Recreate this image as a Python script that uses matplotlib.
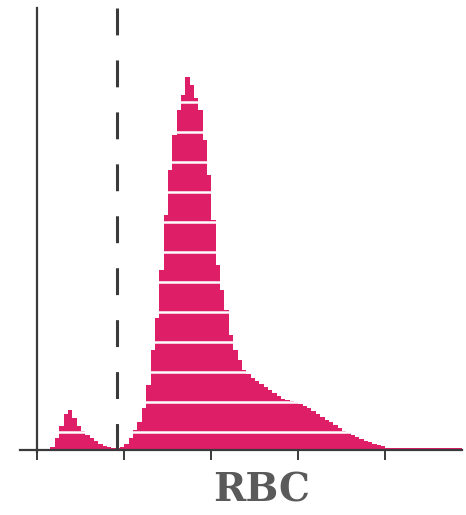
import numpy as np
import matplotlib
matplotlib.use("Agg")
import matplotlib.pyplot as plt

# RBC volume histogram (fL), bin width 2.5 fL, relative counts
bin_width = 2.5
bin_starts = np.arange(0, 245, bin_width)
counts = [
    # 0 - 47.5 fL : small (fragment) peak
    0, 0, 0, 3, 12, 24, 36, 40, 32, 24, 19, 15, 12, 9, 6, 4, 3, 2, 2,
    # 47.5 - 200 fL : main RBC population
    3, 6, 12, 20, 28, 42, 65, 100, 132, 180, 235, 280, 315, 340, 355, 373,
    365, 352, 340, 310, 275, 230, 185, 160, 140, 115, 100, 90, 80, 76, 72,
    69, 66, 63, 60, 57, 54, 51, 50, 49, 48, 46, 44, 42, 39, 36, 33, 30, 28,
    25, 22, 19, 17, 15, 13, 11, 9, 8, 6, 5, 4,
    # 200 - 245 fL : tail
    2, 2, 2, 2, 2, 2, 2, 2, 2, 2, 2, 2, 2, 2, 2, 2, 2, 2,
]
bin_starts = bin_starts[:len(counts)]
x_ticks = [0, 50, 100, 150, 200]
discriminator = 46
x_label = "RBC"

fig = plt.figure(figsize=(4.66, 5.15), dpi=100)
ax = fig.add_axes([20 / 466, 65 / 515, 442 / 466, 442 / 515])

ax.bar(bin_starts, counts, width=bin_width, align="edge",
       color="#DE1F67", linewidth=0, zorder=1)

# white printing bands across the filled area
for h in np.arange(18, 360, 30):
    ax.axhline(h, color="white", lw=1.8, zorder=2)

# left axis line and discriminator
ax.axvline(0, ymin=-0.005, ymax=1, color="#3a3a3a", lw=1.6, zorder=4, clip_on=False)
ax.plot([discriminator, discriminator], [442, -3], color="#3a3a3a", lw=2.2,
        dashes=(8.8, 8.2), zorder=4, clip_on=False)

ax.set_xlim(-10, 244)
ax.set_ylim(0, 442)

for s in ["left", "right", "top"]:
    ax.spines[s].set_visible(False)
ax.spines["bottom"].set_color("#3a3a3a")
ax.spines["bottom"].set_linewidth(1.6)
ax.spines["bottom"].set_zorder(4)

ax.set_xticks(x_ticks)
ax.set_xticklabels([])
ax.tick_params(axis="x", direction="out", length=7, width=1.4, color="#3a3a3a")
ax.set_yticks([])

fig.text(0.562, 25 / 515, x_label, ha="center", va="center",
         fontsize=28, fontweight="bold", family="DejaVu Serif", color="#5a5a5a")

fig.savefig("out.png", dpi=100)
